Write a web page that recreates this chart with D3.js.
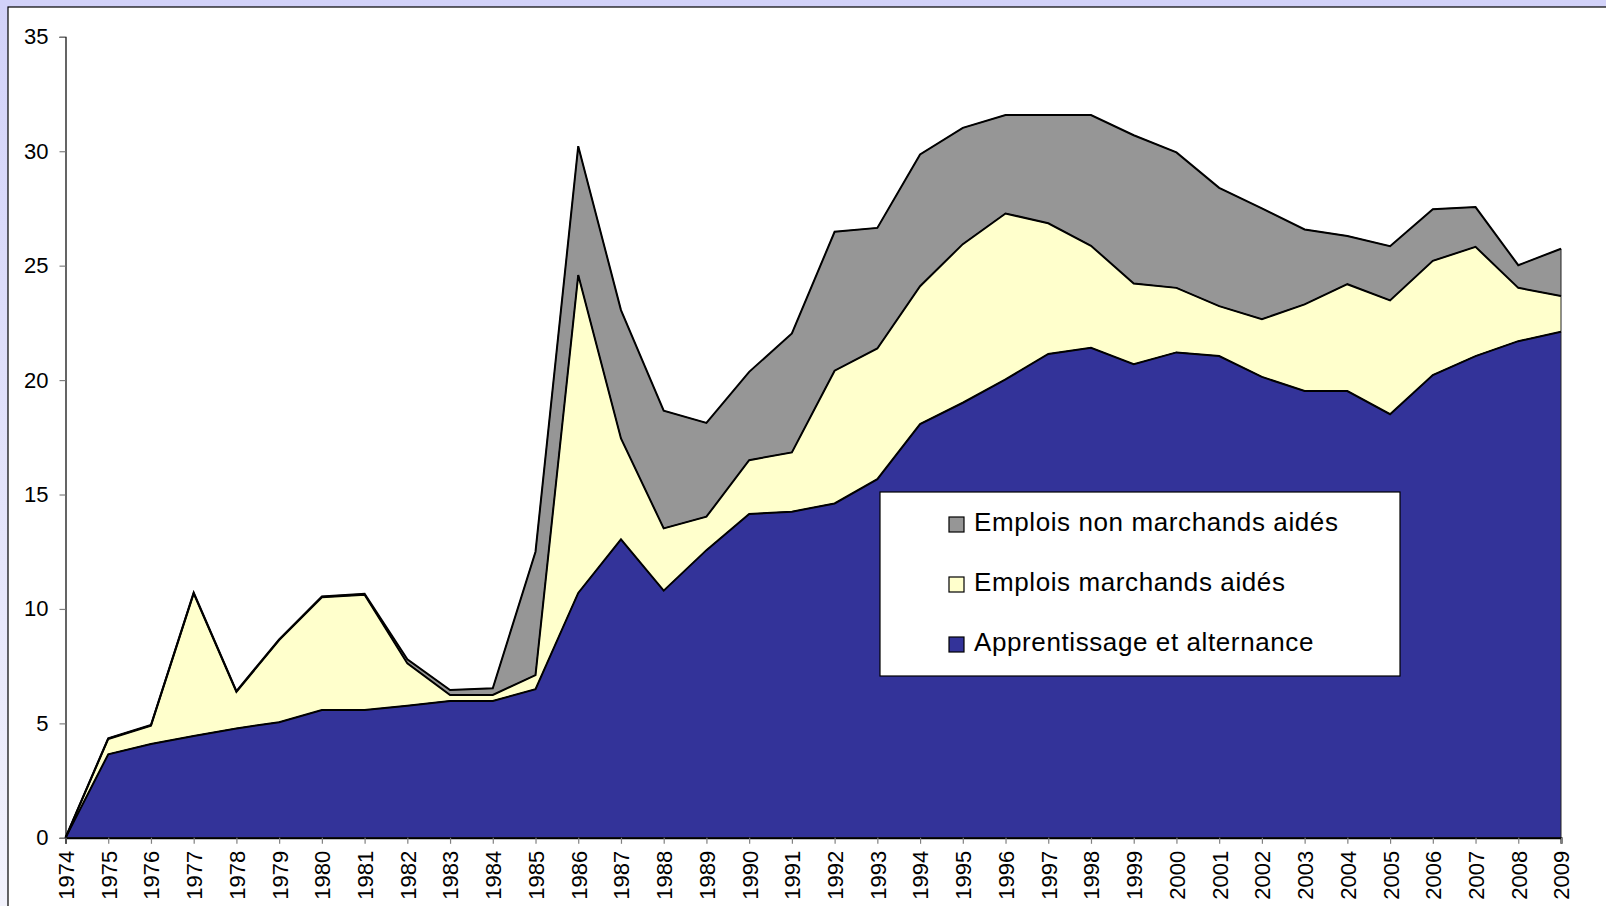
<!DOCTYPE html>
<html>
<head>
<meta charset="utf-8">
<script src="https://cdn.jsdelivr.net/npm/d3@7"></script>
<style>
  html, body { margin: 0; padding: 0; }
  body { width: 1606px; height: 906px; overflow: hidden;
         background: linear-gradient(#d2d2f9, #f2f2fc); }
  svg { display: block; font-family: "Liberation Sans", Arial, sans-serif; }
</style>
</head>
<body>
<div id="chart"></div>
<script>
(function(d3) {
  'use strict';

  var years = d3.range(1974, 2010);

  // Apprentissage et alternance
  var apprentissage = [0, 3.65, 4.1, 4.45, 4.78, 5.05, 5.58, 5.58, 5.77, 5.98, 5.98, 6.49,
    10.7, 13.04, 10.8, 12.57, 14.15, 14.25, 14.61, 15.67, 18.08, 19.01, 20.03, 21.14,
    21.41, 20.69, 21.21, 21.05, 20.14, 19.52, 19.52, 18.51, 20.22, 21.05, 21.7, 22.11];

  // Emplois marchands aidés
  var marchands = [0, 0.67, 0.8, 6.23, 1.6, 3.59, 4.93, 5.04, 1.85, 0.26, 0.26, 0.62,
    13.89, 4.41, 2.72, 1.46, 2.35, 2.59, 5.8, 5.71, 6.02, 6.93, 7.25, 5.71,
    4.46, 3.53, 2.82, 2.18, 2.52, 3.79, 4.67, 4.97, 4.99, 4.77, 2.33, 1.56];

  // Emplois non marchands aidés
  var nonMarchands = [0, 0.03, 0.03, 0.03, 0.03, 0.03, 0.04, 0.04, 0.18, 0.22, 0.29, 5.39,
    5.63, 5.61, 5.14, 4.1, 3.86, 5.2, 6.07, 5.27, 5.76, 5.08, 4.3, 4.73,
    5.71, 6.48, 5.92, 5.17, 4.84, 3.27, 2.11, 2.37, 2.26, 1.74, 0.99, 2.07];

  var yTicks = [0, 5, 10, 15, 20, 25, 30, 35];

  var keys = ['appr', 'march', 'nonmarch'];
  var labels = {
    nonmarch: 'Emplois non marchands aidés',
    march: 'Emplois marchands aidés',
    appr: 'Apprentissage et alternance'
  };
  var colors = { appr: '#333399', march: '#ffffcc', nonmarch: '#969696' };

  var width = 1606, height = 906;

  var rows = years.map(function(y, i) {
    return { year: y, appr: apprentissage[i], march: marchands[i], nonmarch: nonMarchands[i] };
  });

  var svg = d3.select('#chart').append('svg')
    .attr('width', width)
    .attr('height', height);

  // white plot panel
  svg.append('rect')
    .attr('x', 8).attr('y', 7)
    .attr('width', width).attr('height', height)
    .attr('fill', '#fff')
    .attr('stroke', '#000')
    .attr('stroke-width', 1.2);

  var x = d3.scaleLinear().domain([1974, 2009]).range([65.5, 1561]);
  var y = d3.scaleLinear().domain([0, 35]).range([837.8, 36.8]);

  var stack = d3.stack().keys(keys);
  var series = stack(rows);

  var area = d3.area()
    .x(function(d) { return x(d.data.year); })
    .y0(function(d) { return y(d[0]); })
    .y1(function(d) { return y(d[1]); });

  var line = d3.line()
    .x(function(d) { return x(d.data.year); })
    .y(function(d) { return y(d[1]); });

  var g = svg.append('g');

  // draw top layer first so lower layers sit on top of shared edges
  series.slice().reverse().forEach(function(s) {
    g.append('path')
      .datum(s)
      .attr('d', area)
      .attr('fill', colors[s.key])
      .attr('stroke', '#222')
      .attr('stroke-width', 1);
  });
  series.forEach(function(s) {
    g.append('path')
      .datum(s)
      .attr('d', line)
      .attr('fill', 'none')
      .attr('stroke', '#000')
      .attr('stroke-width', 2)
      .attr('stroke-linejoin', 'miter');
  });

  // y axis
  var yAxis = svg.append('g')
    .attr('transform', 'translate(' + x(1974) + ',0)')
    .call(d3.axisLeft(y).tickValues(yTicks).tickSize(6).tickPadding(11).tickFormat(d3.format('d')));
  yAxis.select('.domain').attr('stroke', '#000').attr('stroke-width', 1.2);
  yAxis.selectAll('.tick line').attr('stroke', '#808080').attr('stroke-width', 1.2);
  yAxis.selectAll('.tick text')
    .attr('font-size', 22)
    .attr('font-family', '"Liberation Sans", Arial, sans-serif')
    .attr('fill', '#000');

  // x axis
  var xAxis = svg.append('g')
    .attr('transform', 'translate(0,' + y(0) + ')')
    .call(d3.axisBottom(x).tickValues(years).tickSize(6).tickFormat(d3.format('d')));
  xAxis.select('.domain').attr('stroke', '#000').attr('stroke-width', 2);
  xAxis.selectAll('.tick line').attr('stroke', '#808080').attr('stroke-width', 1.2);
  xAxis.selectAll('.tick text')
    .attr('font-size', 22)
    .attr('font-family', '"Liberation Sans", Arial, sans-serif')
    .attr('fill', '#000')
    .attr('text-anchor', 'end')
    .attr('dy', '0.36em')
    .attr('transform', 'translate(0,13) rotate(-90)')
    .attr('x', 0).attr('y', 0);

  // legend
  var legend = svg.append('g');
  legend.append('rect')
    .attr('x', 880).attr('y', 492)
    .attr('width', 520).attr('height', 184)
    .attr('fill', '#fff')
    .attr('stroke', '#000')
    .attr('stroke-width', 1.2);

  var legendKeys = ['nonmarch', 'march', 'appr'];
  var item = legend.selectAll('g.item')
    .data(legendKeys)
    .enter().append('g')
    .attr('class', 'item')
    .attr('transform', function(d, i) { return 'translate(949,' + (531 + i * 60) + ')'; });

  item.append('rect')
    .attr('x', 0).attr('y', -14)
    .attr('width', 15).attr('height', 15)
    .attr('fill', function(d) { return colors[d]; })
    .attr('stroke', '#000')
    .attr('stroke-width', 1.2);

  item.append('text')
    .attr('x', 25).attr('y', 0)
    .attr('font-size', 26)
    .attr('letter-spacing', 0.6)
    .attr('fill', '#000')
    .text(function(d) { return labels[d]; });

})(window.d3);
</script>
</body>
</html>
